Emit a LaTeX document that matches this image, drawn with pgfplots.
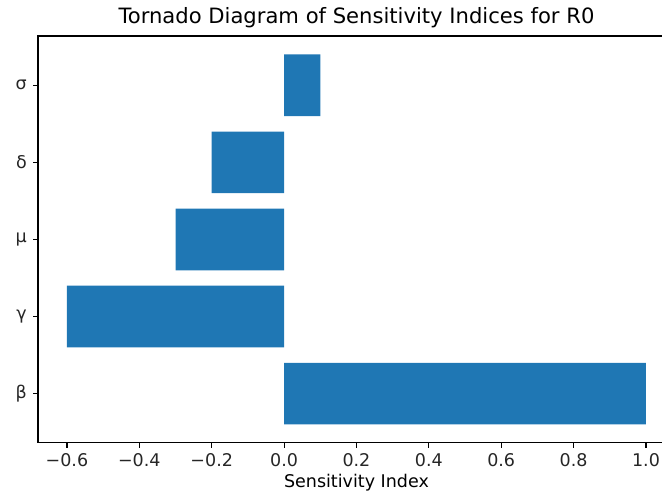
\documentclass[border=0pt]{standalone}
\usepackage{fontspec}
\setmainfont{DejaVu Sans}
\usepackage{pgfplots}
\pgfplotsset{compat=1.18}
\definecolor{mplblue}{HTML}{1F77B4}
\begin{document}
\begin{tikzpicture}
\begin{axis}[
  scale only axis,
  width=458.6pt, height=293pt,
  xmin=-0.68, xmax=1.08,
  ymin=-0.64, ymax=4.64,
  xbar, bar width=0.8, bar shift=0pt,
  xtick={-0.6,-0.4,-0.2,0,0.2,0.4,0.6,0.8,1.0},
  xticklabels={−0.6,−0.4,−0.2,0.0,0.2,0.4,0.6,0.8,1.0},
  ytick={0,1,2,3,4},
  yticklabels={β,γ,μ,δ,σ},
  tick align=outside, major tick length=3.5pt,
  xtick pos=bottom, ytick pos=left,
  tick style={line width=0.8pt, black},
  axis line style={line width=0.8pt},
  ticklabel style={font=\fontsize{12.6}{14}\selectfont, text=black!85},
  xticklabel style={yshift=-0.5pt},
  yticklabel style={xshift=-1pt},
  title={Tornado Diagram of Sensitivity Indices for R0},
  title style={font=\fontsize{15.2}{17}\selectfont, yshift=-4pt},
  xlabel={Sensitivity Index},
  xlabel style={font=\fontsize{12.6}{14}\selectfont, yshift=1.5pt},
]
\addplot[fill=mplblue, draw=none] coordinates {(1.0,0) (-0.6,1) (-0.3,2) (-0.2,3) (0.1,4)};
\end{axis}
\pgfresetboundingbox
\useasboundingbox (-27.36pt,-34.56pt) rectangle (449.3pt,318.92pt);
\end{tikzpicture}
\end{document}
